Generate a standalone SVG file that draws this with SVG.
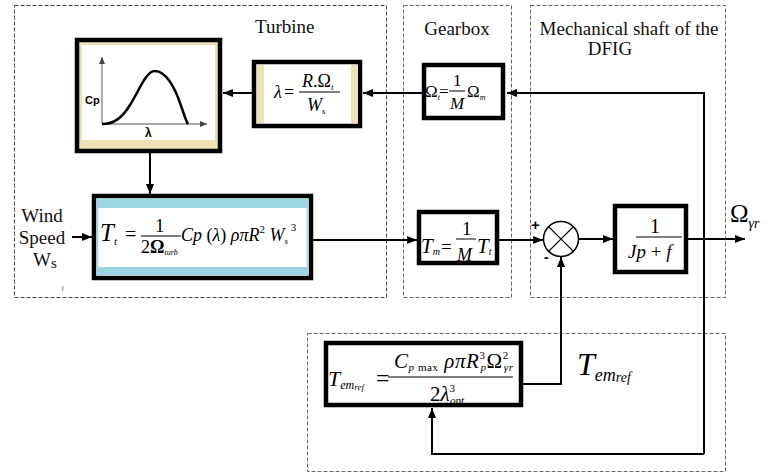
<svg xmlns="http://www.w3.org/2000/svg" width="768" height="473" viewBox="0 0 768 473">
<defs>
<marker id="ah" markerUnits="userSpaceOnUse" markerWidth="10" markerHeight="8" refX="10" refY="4" orient="auto">
<path d="M0,0 L10,4 L0,8 z" fill="#000"/>
</marker>
<marker id="ahs" markerUnits="userSpaceOnUse" markerWidth="7" markerHeight="6" refX="7" refY="3" orient="auto">
<path d="M0,0 L7,3 L0,6 z" fill="#444"/>
</marker>
</defs>
<style>
.region{fill:none;stroke:#666;stroke-width:1;stroke-dasharray:4 2}
.blk{fill:#fff;stroke:#000;stroke-width:4.5}
.hdr{font-family:"Liberation Serif",serif;font-size:19px;fill:#111}
.m{font-family:"Liberation Serif",serif;font-style:italic;fill:#000}
.r{font-family:"Liberation Serif",serif;fill:#000}
.conn{fill:none;stroke:#000;stroke-width:2}
</style>
<rect width="768" height="473" fill="#fff"/>

<g id="regions">
<rect class="region" x="14.5" y="5.5" width="372" height="292" style="stroke:#444"/>
<rect class="region" x="403.5" y="5.5" width="108" height="292"/>
<rect class="region" x="530.5" y="5.5" width="195" height="292"/>
<rect class="region" x="307.5" y="333.5" width="418" height="138"/>
<text class="hdr" x="255" y="33">Turbine</text>
<text class="hdr" x="457" y="35" text-anchor="middle">Gearbox</text>
<text class="hdr" x="629" y="35" text-anchor="middle">Mechanical shaft of the</text>
<text class="hdr" x="610" y="55" text-anchor="middle">DFIG</text>
</g>

<g id="wind">
<text class="hdr" x="42" y="222" text-anchor="middle">Wind</text>
<text class="hdr" x="42" y="244" text-anchor="middle">Speed</text>
<text class="hdr" x="33" y="266">W<tspan font-size="15" dy="2">s</tspan></text>
<text x="62" y="291" font-family="Liberation Sans,sans-serif" font-size="7" fill="#444">i</text>
</g>

<g id="cp-curve">
<rect x="77" y="40" width="143" height="111" fill="#ECE2B6" stroke="#000" stroke-width="4.5"/>
<rect x="82" y="45" width="133" height="95" fill="#fff"/>
<line x1="102" y1="124" x2="102" y2="57" stroke="#555" stroke-width="1" marker-end="url(#ahs)"/>
<line x1="102" y1="124" x2="207" y2="124" stroke="#555" stroke-width="1" marker-end="url(#ahs)"/>
<path d="M102,124 C114,124 122,118 130,105 C140,89 146,71 155,71 C166,71 175,88 180,103 C184,114 186,121 188,124" fill="none" stroke="#000" stroke-width="2.5"/>
<text x="85" y="104" font-family="Liberation Sans,sans-serif" font-weight="bold" font-size="11">Cp</text>
<text x="145" y="137" font-family="Liberation Sans,sans-serif" font-weight="bold" font-size="12">λ</text>
</g>

<g id="lambda">
<rect class="blk" x="254" y="62" width="106" height="64"/>
<rect x="257" y="65" width="7" height="58" fill="#ECE2B6"/>
<rect x="351" y="65" width="7" height="58" fill="#ECE2B6"/>
<text class="m" x="274" y="98" font-size="18">λ</text>
<text class="r" x="284" y="98" font-size="18">=</text>
<text class="m" x="302" y="87" font-size="18">R<tspan font-style="normal">.Ω</tspan><tspan font-size="9" dy="3">t</tspan></text>
<line x1="299" y1="92" x2="340" y2="92" stroke="#000" stroke-width="1"/>
<text class="m" x="307" y="111" font-size="18">W<tspan font-size="9" dy="3">s</tspan></text>
</g>

<g id="gear-speed">
<rect class="blk" x="424" y="65" width="79" height="53"/>
<text class="r" x="425" y="97" font-size="17">Ω<tspan font-style="italic" font-size="8" dy="3">t</tspan></text>
<text class="r" x="439" y="97" font-size="17">=</text>
<text class="r" x="453" y="86" font-size="17">1</text>
<line x1="449" y1="91" x2="465" y2="91" stroke="#000" stroke-width="1"/>
<text class="m" x="450" y="109" font-size="17">M</text>
<text class="r" x="467" y="97" font-size="17">Ω<tspan font-style="italic" font-size="8" dy="3">m</tspan></text>
</g>

<g id="turbine-torque">
<rect class="blk" x="94" y="196" width="217" height="82"/>
<rect x="97.5" y="199.5" width="210" height="75" fill="#fff" stroke="#9BD6E4" stroke-width="1.5"/>
<rect x="97" y="199" width="211" height="9" fill="#9BD6E4"/>
<rect x="97" y="267" width="211" height="8" fill="#9BD6E4"/>
<text class="m" x="100" y="241" font-size="25">T<tspan font-size="11" dy="4">t</tspan></text>
<text class="r" x="125" y="241" font-size="20">=</text>
<text class="r" x="155" y="232" font-size="19">1</text>
<line x1="141" y1="236" x2="181" y2="236" stroke="#000" stroke-width="1"/>
<text class="r" x="141" y="253" font-size="18">2<tspan font-weight="bold">Ω</tspan><tspan font-style="italic" font-size="8" dy="2">turb</tspan></text>
<text class="m" x="181" y="241" font-size="18">Cp <tspan font-style="normal">(</tspan>λ<tspan font-style="normal">)</tspan> ρπR<tspan font-style="normal" font-size="11" dy="-8">2</tspan><tspan dy="8"> W</tspan><tspan font-size="9" dy="3">s</tspan><tspan font-style="normal" font-size="11" dy="-13"> 3</tspan></text>
</g>

<g id="gear-torque">
<rect class="blk" x="419" y="212" width="78" height="51"/>
<text class="m" x="421" y="253" font-size="21">T<tspan font-size="10" dy="2">m</tspan></text>
<text class="r" x="441" y="253" font-size="19">=</text>
<text class="r" x="462" y="235" font-size="19">1</text>
<line x1="456" y1="239" x2="476" y2="239" stroke="#000" stroke-width="1"/>
<text class="m" x="457" y="261" font-size="18">M</text>
<text class="m" x="477" y="253" font-size="21">T<tspan font-size="10" dy="2">t</tspan></text>
</g>

<g id="sum">
<circle cx="561" cy="239" r="17.5" fill="#fff" stroke="#000" stroke-width="1.5"/>
<line x1="548.6" y1="226.6" x2="573.4" y2="251.4" stroke="#000" stroke-width="1.3"/>
<line x1="573.4" y1="226.6" x2="548.6" y2="251.4" stroke="#000" stroke-width="1.3"/>
<text x="531" y="230" font-family="Liberation Sans,sans-serif" font-weight="bold" font-size="15">+</text>
<text x="544" y="262" font-family="Liberation Sans,sans-serif" font-weight="bold" font-size="14">-</text>
</g>

<g id="shaft">
<rect class="blk" x="615" y="206" width="71" height="66"/>
<text class="r" x="650" y="233" font-size="20">1</text>
<line x1="636" y1="237" x2="682" y2="237" stroke="#000" stroke-width="1"/>
<text class="m" x="628" y="258" font-size="19">Jp <tspan font-style="normal">+</tspan> f</text>
</g>

<g id="output">
<text class="r" x="730" y="222" font-size="25">Ω<tspan font-style="italic" font-size="14" dy="6">γr</tspan></text>
</g>

<g id="tem-ref">
<rect class="blk" x="326" y="343" width="195" height="62"/>
<text class="m" x="328" y="386" font-size="22">T<tspan font-size="12" dy="3">em</tspan><tspan font-size="9" dy="1">ref</tspan></text>
<text class="r" x="376" y="386" font-size="24">=</text>
<text class="m" x="394" y="368" font-size="21" textLength="119" lengthAdjust="spacing">C<tspan font-size="11" dy="3">p</tspan><tspan font-style="normal" font-size="11"> max</tspan><tspan dy="-3"> ρπR</tspan><tspan font-style="normal" font-size="11" dy="-9">3</tspan><tspan font-size="11" dx="-5" dy="12">p</tspan><tspan font-style="normal" dy="-3">Ω</tspan><tspan font-style="normal" font-size="11" dy="-9">2</tspan><tspan font-size="11" dx="-5" dy="12">γr</tspan></text>
<line x1="388" y1="377" x2="513" y2="377" stroke="#000" stroke-width="1"/>
<text class="m" x="430" y="401" font-size="21"><tspan font-style="normal">2</tspan>λ<tspan font-style="normal" font-size="11" dy="-9">3</tspan><tspan font-size="11" dx="-5" dy="12">opt</tspan></text>
<text class="m" x="577" y="375" font-size="32">T<tspan font-size="18" dy="6">em</tspan><tspan font-size="14" dy="1">ref</tspan></text>
</g>

<g id="connectors">
<path class="conn" d="M704,454 V93 H507" marker-end="url(#ah)"/>
<line class="conn" x1="422" y1="93" x2="363" y2="93" marker-end="url(#ah)"/>
<line class="conn" x1="252" y1="93" x2="223" y2="93" marker-end="url(#ah)"/>
<line class="conn" x1="150" y1="153" x2="150" y2="194" marker-end="url(#ah)"/>
<line class="conn" x1="72" y1="237" x2="92" y2="237" marker-end="url(#ah)"/>
<line class="conn" x1="313" y1="240" x2="417" y2="240" marker-end="url(#ah)"/>
<line class="conn" x1="499" y1="240" x2="543" y2="240" marker-end="url(#ah)"/>
<line class="conn" x1="579" y1="239" x2="613" y2="239" marker-end="url(#ah)"/>
<line class="conn" x1="688" y1="239" x2="745" y2="239" marker-end="url(#ah)"/>
<path class="conn" d="M523,384 H561 V257" marker-end="url(#ah)"/>
<path class="conn" d="M704,454 H432 V408" marker-end="url(#ah)"/>
</g>
</svg>
